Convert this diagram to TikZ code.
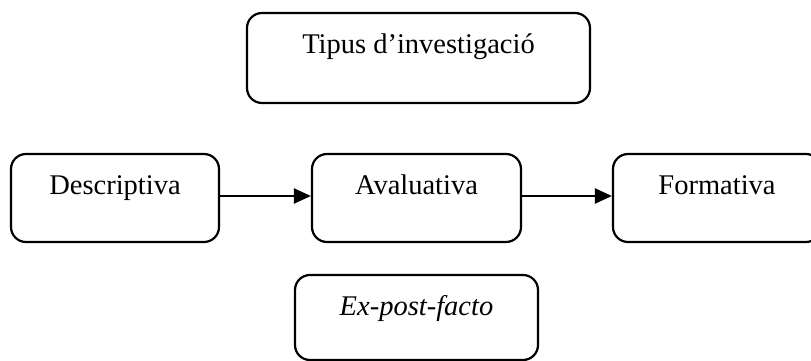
\documentclass[tikz,border=0pt]{standalone}
\usepackage{fontspec}
\setmainfont{Liberation Serif}
\usetikzlibrary{arrows.meta}
\begin{document}
\begin{tikzpicture}[x=1pt,y=-1pt,
  box/.style={draw, line width=2.2pt, rounded corners=15pt, rectangle, inner sep=0pt},
  lbl/.style={anchor=base, inner sep=0pt, font=\fontsize{28.5}{34}\selectfont},
  link/.style={line width=2.2pt, -{Triangle[length=17pt,width=15pt]}}]
\useasboundingbox (0,0) rectangle (811,361);
% boxes
\node[box, minimum width=343pt, minimum height=90pt] (tipus) at (418.5,58) {};
\node[box, minimum width=208pt, minimum height=88pt] (desc) at (115,198) {};
\node[box, minimum width=209pt, minimum height=88pt] (aval) at (416.5,198) {};
\node[box, minimum width=208pt, minimum height=88pt] (form) at (717,198) {};
\node[box, minimum width=243pt, minimum height=85pt] (expf) at (416.5,317.5) {};
% labels
\node[lbl] (tTipus) at ([yshift=-42pt]tipus.north) {Tipus d’investigació};
\node[lbl] (tDesc) at ([yshift=-42pt]desc.north) {Descriptiva};
\node[lbl] (tAval) at ([yshift=-42pt]aval.north) {Avaluativa};
\node[lbl] (tForm) at ([yshift=-42pt]form.north) {Formativa};
\node[lbl] (tExpf) at ([yshift=-42pt]expf.north) {\itshape Ex-post-facto};
% connectors
\draw[link] ([yshift=2pt]desc.east) -- ([yshift=2pt]aval.west);
\draw[link] ([yshift=2pt]aval.east) -- ([yshift=2pt]form.west);
\end{tikzpicture}
\end{document}
